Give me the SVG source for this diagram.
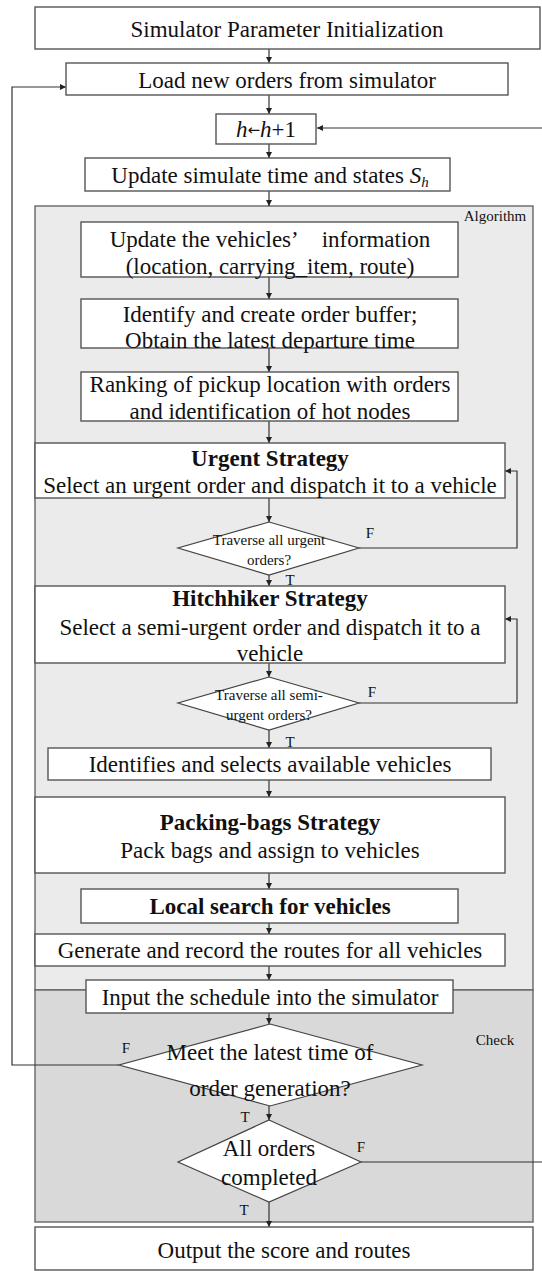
<svg xmlns="http://www.w3.org/2000/svg" width="542" height="1271" viewBox="0 0 542 1271">
<defs>
<marker id="ah" viewBox="0 0 10 10" refX="10" refY="5" markerWidth="6" markerHeight="6" orient="auto" markerUnits="userSpaceOnUse">
<path d="M0,0 L10,5 L0,10 z" fill="#222"/>
</marker>
<style>
.box{fill:#fff;stroke:#555;stroke-width:1.4}
.dia{fill:#fff;stroke:#444;stroke-width:1.2}
.reg1{fill:#ebebeb;stroke:#666;stroke-width:1.4}
.reg2{fill:#d9d9d9;stroke:#666;stroke-width:1.4}
.t{font-family:"Liberation Serif","Times New Roman",serif;font-size:23px;fill:#111;text-anchor:middle}
.b{font-weight:bold}
.s{font-family:"Liberation Serif","Times New Roman",serif;font-size:15px;fill:#111;text-anchor:middle}
.c{fill:none;stroke:#333;stroke-width:1.2}
</style>
</defs>
<rect width="542" height="1271" fill="#fff"/>
<g id="region-algorithm">
<rect class="reg1" x="35" y="206" width="498" height="784"/>
<text class="s" x="495" y="221">Algorithm</text>
</g>
<g id="region-check">
<rect class="reg2" x="35" y="990" width="498" height="232"/>
<text class="s" x="495" y="1045">Check</text>
</g>
<g id="connectors">
<line class="c" x1="269" y1="49" x2="269" y2="63" marker-end="url(#ah)"/>
<line class="c" x1="269" y1="95" x2="269" y2="114" marker-end="url(#ah)"/>
<line class="c" x1="269" y1="144" x2="269" y2="158" marker-end="url(#ah)"/>
<line class="c" x1="269" y1="191" x2="269" y2="206" marker-end="url(#ah)"/>
<line class="c" x1="269" y1="277" x2="269" y2="299" marker-end="url(#ah)"/>
<line class="c" x1="269" y1="348" x2="269" y2="372" marker-end="url(#ah)"/>
<line class="c" x1="269" y1="421" x2="269" y2="443" marker-end="url(#ah)"/>
<line class="c" x1="269" y1="498" x2="269" y2="522" marker-end="url(#ah)"/>
<line class="c" x1="269" y1="575" x2="269" y2="586" marker-end="url(#ah)"/>
<path class="c" d="M359,548 H517 V471 H505" marker-end="url(#ah)"/>
<line class="c" x1="269" y1="663" x2="269" y2="677" marker-end="url(#ah)"/>
<line class="c" x1="269" y1="730" x2="269" y2="748" marker-end="url(#ah)"/>
<path class="c" d="M359,703 H517 V619 H505" marker-end="url(#ah)"/>
<line class="c" x1="269" y1="780" x2="269" y2="797" marker-end="url(#ah)"/>
<line class="c" x1="269" y1="873" x2="269" y2="889" marker-end="url(#ah)"/>
<line class="c" x1="269" y1="923" x2="269" y2="934" marker-end="url(#ah)"/>
<line class="c" x1="269" y1="966" x2="269" y2="980" marker-end="url(#ah)"/>
<line class="c" x1="269" y1="1013" x2="269" y2="1024" marker-end="url(#ah)"/>
<path class="c" d="M119,1065 H12 V87 H66" marker-end="url(#ah)"/>
<line class="c" x1="269" y1="1106" x2="269" y2="1120" marker-end="url(#ah)"/>
<path class="c" d="M361,1162 H548 V128 H317" marker-end="url(#ah)"/>
<line class="c" x1="269" y1="1202" x2="269" y2="1227" marker-end="url(#ah)"/>
<text class="s" x="370" y="538">F</text>
<text class="s" x="290" y="585">T</text>
<text class="s" x="372" y="697">F</text>
<text class="s" x="290" y="747">T</text>
<text class="s" x="126" y="1053">F</text>
<text class="s" x="245" y="1122">T</text>
<text class="s" x="361" y="1152">F</text>
<text class="s" x="244" y="1215">T</text>
</g>
<g id="n1">
<rect class="box" x="35" y="7" width="505" height="42"/>
<text class="t" x="287" y="37">Simulator Parameter Initialization</text>
</g>
<g id="n2">
<rect class="box" x="66" y="63" width="442" height="32"/>
<text class="t" x="287" y="88">Load new orders from simulator</text>
</g>
<g id="n3">
<rect class="box" x="216" y="114" width="100" height="30"/>
<text class="t" x="266" y="137"><tspan font-style="italic">h</tspan><tspan font-family="DejaVu Sans" font-size="15" dy="-2">←</tspan><tspan font-style="italic" dy="2">h</tspan>+1</text>
</g>
<g id="n4">
<rect class="box" x="85" y="158" width="365" height="33"/>
<text class="t" x="270" y="183">Update simulate time and states <tspan font-style="italic">S</tspan><tspan font-style="italic" font-size="15" dy="4">h</tspan></text>
</g>
<g id="n5">
<rect class="box" x="81" y="222" width="377" height="55"/>
<text class="t" x="270" y="247">Update the vehicles’&#160;&#160;&#160;&#160;information</text>
<text class="t" x="270" y="274">(location, carrying_item, route)</text>
</g>
<g id="n6">
<rect class="box" x="81" y="299" width="377" height="49"/>
<text class="t" x="270" y="322">Identify and create order buffer;</text>
<text class="t" x="270" y="348">Obtain the latest departure time</text>
</g>
<g id="n7">
<rect class="box" x="81" y="372" width="377" height="49"/>
<text class="t" x="270" y="392">Ranking of pickup location with orders</text>
<text class="t" x="270" y="419">and identification of hot nodes</text>
</g>
<g id="n8">
<rect class="box" x="35" y="443" width="470" height="55"/>
<text class="t b" x="270" y="466">Urgent Strategy</text>
<text class="t" x="270" y="493">Select an urgent order and dispatch it to a vehicle</text>
</g>
<g id="d1">
<polygon class="dia" points="269,522 359,548 269,575 178,548"/>
<text class="s" x="269" y="545">Traverse all urgent</text>
<text class="s" x="269" y="565">orders?</text>
</g>
<g id="n9">
<rect class="box" x="35" y="586" width="470" height="77"/>
<text class="t b" x="270" y="606">Hitchhiker Strategy</text>
<text class="t" x="270" y="635">Select a semi-urgent order and dispatch it to a</text>
<text class="t" x="270" y="661">vehicle</text>
</g>
<g id="d2">
<polygon class="dia" points="269,677 359,703 269,730 178,703"/>
<text class="s" x="269" y="700">Traverse all semi-</text>
<text class="s" x="269" y="720">urgent orders?</text>
</g>
<g id="n10">
<rect class="box" x="48" y="748" width="443" height="32"/>
<text class="t" x="270" y="772">Identifies and selects available vehicles</text>
</g>
<g id="n11">
<rect class="box" x="35" y="797" width="470" height="76"/>
<text class="t b" x="270" y="830">Packing-bags Strategy</text>
<text class="t" x="270" y="858">Pack bags and assign to vehicles</text>
</g>
<g id="n12">
<rect class="box" x="81" y="889" width="377" height="34"/>
<text class="t b" x="270" y="914">Local search for vehicles</text>
</g>
<g id="n13">
<rect class="box" x="35" y="934" width="470" height="32"/>
<text class="t" x="270" y="958">Generate and record the routes for all vehicles</text>
</g>
<g id="n14">
<rect class="box" x="86" y="980" width="367" height="33"/>
<text class="t" x="270" y="1005">Input the schedule into the simulator</text>
</g>
<g id="d3">
<polygon class="dia" points="270,1024 422,1065 270,1106 119,1065"/>
<text class="t" x="270" y="1060">Meet the latest time of</text>
<text class="t" x="270" y="1096">order generation?</text>
</g>
<g id="d4">
<polygon class="dia" points="269,1120 361,1162 269,1202 178,1162"/>
<text class="t" x="269" y="1156">All orders</text>
<text class="t" x="269" y="1185">completed</text>
</g>
<g id="n15">
<rect class="box" x="35" y="1227" width="498" height="43"/>
<text class="t" x="284" y="1258">Output the score and routes</text>
</g>
</svg>
